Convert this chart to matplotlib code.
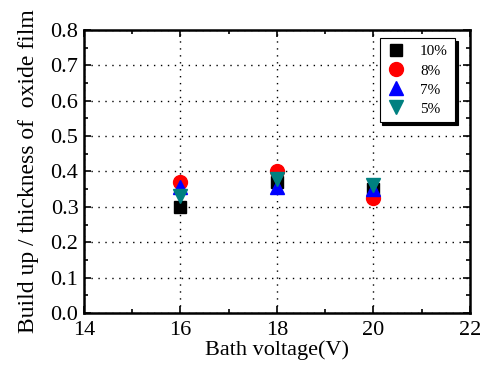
import matplotlib.pyplot as plt
from matplotlib.ticker import MultipleLocator, FormatStrFormatter

plt.rcParams['font.family'] = ['Liberation Serif', 'DejaVu Serif']

voltage = [16, 18, 20]
labels = ["10%", "8%", "7%", "5%"]
c10 = [0.30, 0.37, 0.35]
c8 = [0.37, 0.40, 0.325]
c7 = [0.357, 0.355, 0.35]
c5 = [0.33, 0.378, 0.362]

fig = plt.figure(figsize=(4.81, 3.7), dpi=100)
ax = fig.add_axes([0.1746, 0.154, 0.8024, 0.765])

ax.plot(voltage, c10, ls="none", marker="s", ms=8.5, color="black", label=labels[0])
ax.plot(voltage, c8, ls="none", marker="o", ms=10, color="red", label=labels[1])
ax.plot(voltage, c7, ls="none", marker="^", ms=10, color="blue", label=labels[2])
ax.plot(voltage, c5, ls="none", marker="v", ms=10, color="#008080", label=labels[3])

ax.set_xlim(14, 22)
ax.set_ylim(0, 0.8)
ax.xaxis.set_major_locator(MultipleLocator(2))
ax.xaxis.set_minor_locator(MultipleLocator(1))
ax.yaxis.set_major_locator(MultipleLocator(0.1))
ax.yaxis.set_minor_locator(MultipleLocator(0.05))
ax.yaxis.set_major_formatter(FormatStrFormatter("%.1f"))
ax.tick_params(which="both", direction="in", top=True, right=True, labelsize=16)
ax.tick_params(axis="x", pad=6)
ax.tick_params(axis="y", pad=4)
ax.tick_params(which="major", length=5, width=1.2)
ax.tick_params(which="minor", length=3, width=1.2)
ax.grid(True, ls=(0, (1, 4)), color="black", lw=1)
for s in ax.spines.values():
    s.set_linewidth(1.8)

ax.set_xlabel("Bath voltage(V)", fontsize=16, labelpad=0)
ax.set_ylabel("Build up / thickness of  oxide film", fontsize=17, labelpad=8)

leg = ax.legend(loc="upper right", bbox_to_anchor=(0.961, 0.972), borderaxespad=0,
                fontsize=11, frameon=True, fancybox=False,
                shadow={'color': 'black', 'alpha': 1},
                handletextpad=0.9, borderpad=0.45, labelspacing=0.35,
                handlelength=1.3)
leg.get_frame().set_edgecolor("black")
leg.get_frame().set_linewidth(0.8)

fig.savefig("out.png", dpi=100)
